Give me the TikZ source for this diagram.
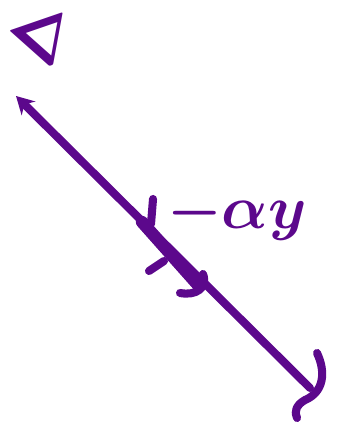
\documentclass[tikz,border=0pt]{standalone}
\usepackage{amsmath}
\usepackage{amssymb}
\usepackage{graphicx}
\usetikzlibrary{arrows.meta,positioning}
\definecolor{ink}{RGB}{92,8,140}

\begin{document}
\begin{tikzpicture}[x=0.02cm, y=0.02cm,
    pen/.style={draw=ink, line width=4.6pt, line cap=round, line join=round},
    arrow/.style={pen, {Stealth[length=10pt, width=11pt]}-},
    sym/.style={text=ink, font=\Huge\boldmath, inner sep=0pt},
    label/.style={text=ink, font=\Huge\boldmath, inner sep=0pt}
]
\useasboundingbox (0,0) rectangle (339,431);

% Nodes
\node[sym, rotate=19] (nabla) at (44,388) {\scalebox{1.5}{$\nabla$}};
\coordinate (top) at (16,335);
\coordinate (bot) at (310,43);
\node[label] (grad) at (237,216) {\scalebox{1.4}{$-\alpha y$}};

% Arrows
\draw[arrow] (top) -- (bot);
\draw[pen] (317,78) .. controls (326,59) and (324,39) .. (305,31)
           .. controls (296,26) and (294,19) .. (297,13);

% Marks on the line
\draw[pen, line width=7pt] (142,209) -- (198,146);
\draw[pen] (153,232) -- (151,207);
\draw[pen] (149,160) -- (164,170);
\draw[pen] (180,138) .. controls (196,135) and (208,143) .. (203,157);

\end{tikzpicture}
\end{document}
